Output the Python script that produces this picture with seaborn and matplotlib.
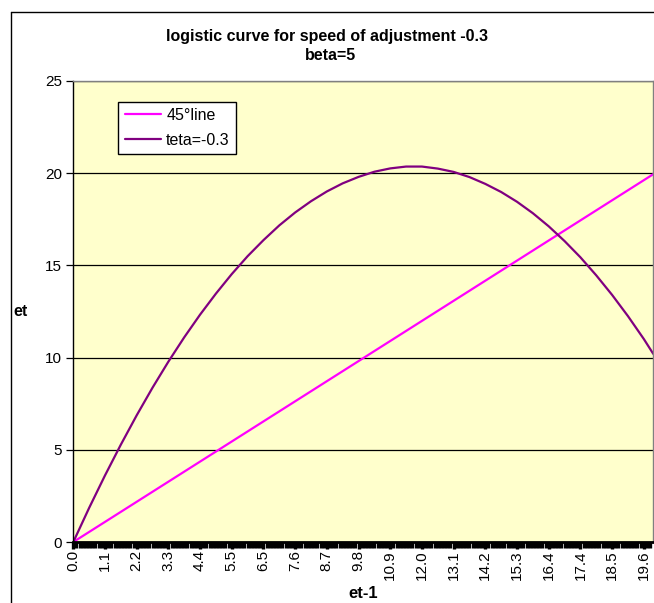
import matplotlib
matplotlib.use("Agg")
import matplotlib.pyplot as plt
import numpy as np
import pandas as pd
import seaborn as sns
from matplotlib.lines import Line2D

# e(t-1) values (read at every half tick label) and the two series
e_prev = [0.0, 0.545, 1.09, 1.635, 2.18, 2.725, 3.27, 3.815, 4.36, 4.905,
          5.45, 5.995, 6.54, 7.085, 7.63, 8.175, 8.72, 9.265, 9.81, 10.355,
          10.9, 11.445, 11.99, 12.535, 13.08, 13.625, 14.17, 14.715, 15.26, 15.805,
          16.35, 16.895, 17.44, 17.985, 18.53, 19.075, 19.62, 19.947]
line45 = [0.0, 0.545, 1.09, 1.635, 2.18, 2.725, 3.27, 3.815, 4.36, 4.905,
          5.45, 5.995, 6.54, 7.085, 7.63, 8.175, 8.72, 9.265, 9.81, 10.355,
          10.9, 11.445, 11.99, 12.535, 13.08, 13.625, 14.17, 14.715, 15.26, 15.805,
          16.35, 16.895, 17.44, 17.985, 18.53, 19.075, 19.62, 19.947]
teta_curve = [0.0, 1.85, 3.61, 5.28, 6.87, 8.37, 9.78, 11.10, 12.33, 13.47,
              14.53, 15.50, 16.37, 17.17, 17.87, 18.48, 19.01, 19.45, 19.80, 20.08,
              20.26, 20.36, 20.36, 20.25, 20.07, 19.79, 19.42, 18.98, 18.45, 17.83,
              17.12, 16.32, 15.44, 14.46, 13.40, 12.25, 11.01, 10.2]

tick_vals = [0.0, 1.09, 2.18, 3.27, 4.36, 5.45, 6.54, 7.63, 8.72, 9.81,
             10.9, 11.99, 13.08, 14.17, 15.26, 16.35, 17.44, 18.53, 19.62]
tick_labels = ["0.0", "1.1", "2.2", "3.3", "4.4", "5.5", "6.5", "7.6", "8.7", "9.8",
               "10.9", "12.0", "13.1", "14.2", "15.3", "16.4", "17.4", "18.5", "19.6"]

sns.set_style("white")
plt.rcParams['font.family'] = ['Liberation Sans', 'DejaVu Sans']
plt.rcParams['text.color'] = 'black'
plt.rcParams['xtick.color'] = 'black'
plt.rcParams['ytick.color'] = 'black'
plt.rcParams['xtick.labelcolor'] = 'black'
plt.rcParams['ytick.labelcolor'] = 'black'

W, H = 654, 603
fig = plt.figure(figsize=(W / 100, H / 100), dpi=100)
ax = fig.add_axes([73.3 / W, 1 - 542 / H, (653.3 - 73.3) / W, (542 - 81) / H])
ax.set_facecolor('#FFFFCC')

df = pd.DataFrame({'x': e_prev, 'l45': line45, 'teta': teta_curve})
sns.lineplot(data=df, x='x', y='l45', color='#FF00FF', lw=1.6, label='45°line', ax=ax)
sns.lineplot(data=df, x='x', y='teta', color='#800080', lw=1.6, label='teta=-0.3', ax=ax)

ax.set_xlim(0, e_prev[-1])
ax.set_ylim(0, 25)
ax.set_yticks(range(0, 26, 5))
ax.set_xticks(tick_vals)
ax.set_xticklabels(tick_labels, rotation=90)
ax.set_xticks(np.arange(0, e_prev[-1], 0.109), minor=True)
ax.set_xlabel('')
ax.set_ylabel('')

ax.yaxis.grid(True, color='black', lw=0.9)
ax.xaxis.grid(False)
ax.set_axisbelow(True)

for side in ['top', 'right']:
    ax.spines[side].set_color('#808080')
    ax.spines[side].set_linewidth(1)
ax.spines['left'].set_color('black')
ax.spines['left'].set_linewidth(1)
ax.spines['bottom'].set_color('black')
ax.spines['bottom'].set_linewidth(2)

ax.tick_params(axis='y', direction='out', length=5, width=0.9, color='black',
               labelsize=11, pad=3, left=True)
ax.tick_params(axis='x', which='major', direction='out', length=5, width=2.4,
               color='black', labelsize=11, pad=1, bottom=True)
ax.tick_params(axis='x', which='minor', direction='out', length=4, width=2.4,
               color='black', bottom=True)

leg = ax.legend(loc='upper left', bbox_to_anchor=(118.3 / W, 1 - 101.7 / H),
                bbox_transform=fig.transFigure, borderaxespad=0, fontsize=11.5,
                frameon=True, fancybox=False, edgecolor='black', framealpha=1,
                handlelength=2.3, handletextpad=0.3, borderpad=0.4, labelspacing=0.6)
leg.get_frame().set_linewidth(1)
leg.get_frame().set_facecolor('white')

fig.text(0.5, 1 - 36 / H, 'logistic curve for speed of adjustment -0.3',
         ha='center', va='center', fontsize=11.5, fontweight='bold')
fig.text(0.505, 1 - 56 / H, 'beta=5', ha='center', va='center',
         fontsize=11.5, fontweight='bold')
fig.text(20.5 / W, 1 - 311 / H, 'et', ha='center', va='center',
         fontsize=11.5, fontweight='bold')
fig.text(363 / W, 1 - 593 / H, 'et-1', ha='center', va='center',
         fontsize=12, fontweight='bold')

# chart border
fig.add_artist(Line2D([10.5 / W, 10.5 / W], [0, 1 - 12 / H], color='black',
                      lw=1, transform=fig.transFigure))
fig.add_artist(Line2D([10.5 / W, 1], [1 - 12 / H, 1 - 12 / H], color='black',
                      lw=1, transform=fig.transFigure))

fig.savefig('out.png', dpi=100)
